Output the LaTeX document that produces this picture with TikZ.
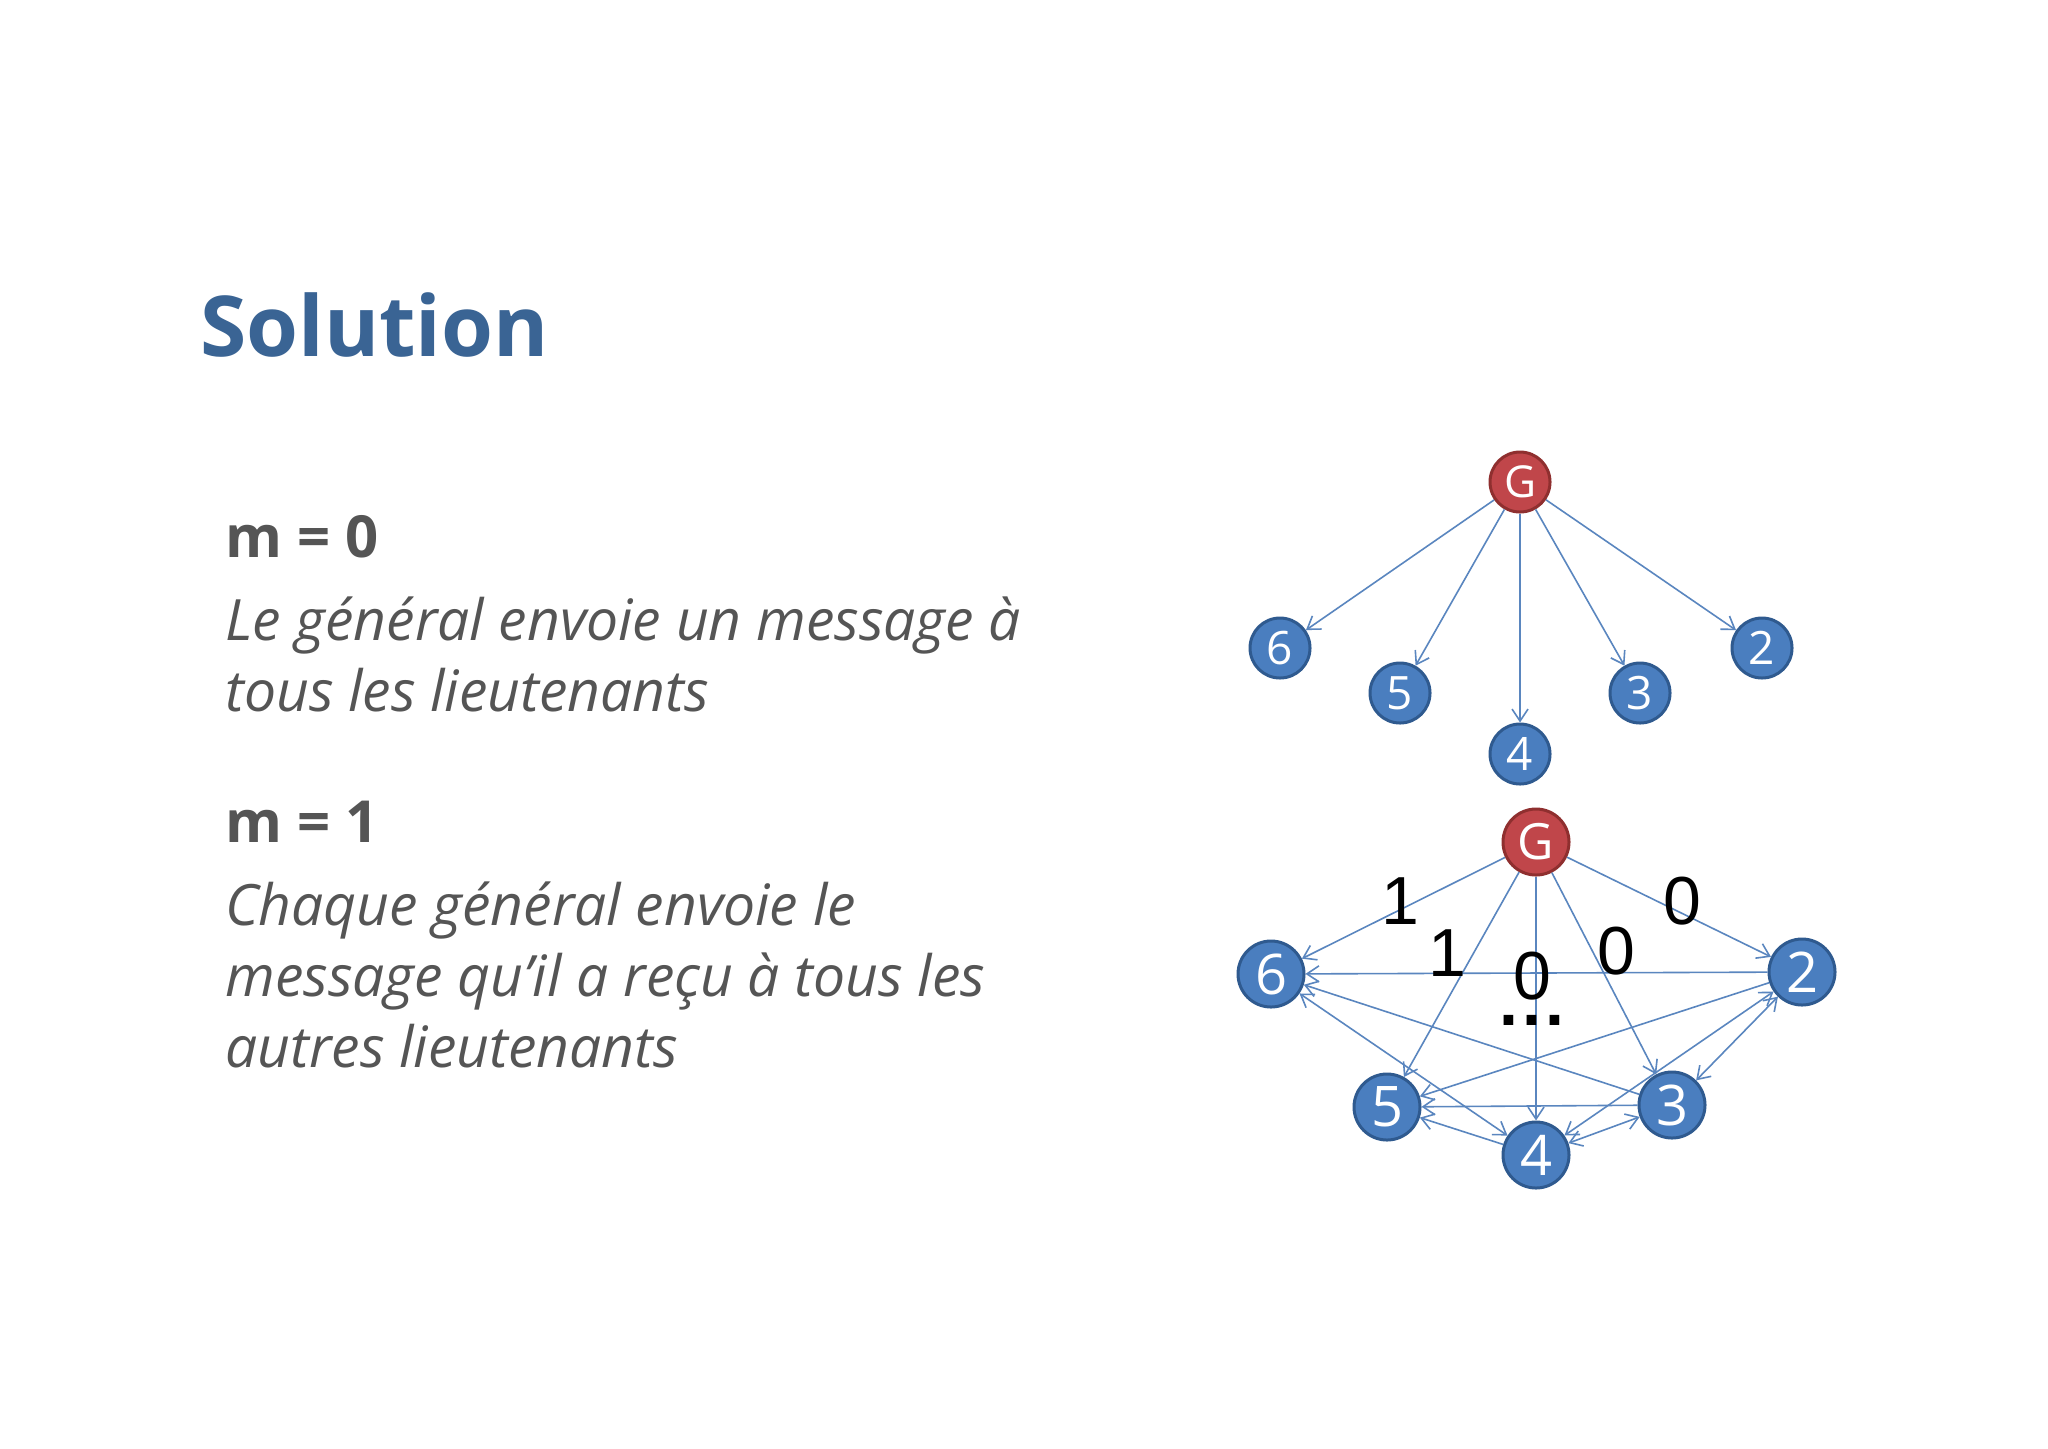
\documentclass[tikz,border=0pt]{standalone}
\usepackage{fontspec}
\setmainfont{Open Sans}
\usetikzlibrary{arrows.meta}
\definecolor{titleblue}{HTML}{3A6494}
\definecolor{txtgray}{HTML}{555555}
\definecolor{nodeblue}{HTML}{4A7EBF}
\definecolor{nodeborder}{HTML}{2F5A8F}
\definecolor{gred}{HTML}{C0464A}
\definecolor{gborder}{HTML}{8F2F2F}
\definecolor{edgeblue}{HTML}{5A86BF}
\tikzset{
  lt/.style={circle,fill=nodeblue,draw=nodeborder,line width=1.5pt,text=white,inner sep=0pt,font=\fontsize{#1}{#1}\selectfont},
  gen/.style={circle,fill=gred,draw=gborder,line width=1.5pt,text=white,inner sep=0pt,font=\fontsize{#1}{#1}\selectfont},
  ed/.style={draw=edgeblue,line width=0.8pt,-{Straight Barb[length=6pt,width=8pt]}},
  bd/.style={draw=edgeblue,line width=0.8pt,{Straight Barb[length=6pt,width=8pt]}-{Straight Barb[length=6pt,width=8pt]}},
  lab/.style={font=\fontspec{Liberation Sans}\fontsize{34}{34}\selectfont,text=black,inner sep=0pt},
  body/.style={anchor=base west,inner sep=0pt,text=txtgray}
}
\begin{document}
\begin{tikzpicture}[x=0.5pt,y=-0.5pt]
\useasboundingbox[fill=white] (0,0) rectangle (2048,1448);
\node[body,text=titleblue,font=\bfseries\fontsize{42}{42}\selectfont] (title) at (200,356) {Solution};
\node[body,font=\bfseries\fontsize{29}{29}\selectfont] (m0) at (225,557) {m = 0};
\node[body,font=\itshape\fontsize{28.5}{28.5}\selectfont] (t1) at (225,640) {Le général envoie un message à};
\node[body,font=\itshape\fontsize{28.5}{28.5}\selectfont] (t2) at (225,711) {tous les lieutenants};
\node[body,font=\bfseries\fontsize{29}{29}\selectfont] (m1) at (225,842) {m = 1};
\node[body,font=\itshape\fontsize{28.5}{28.5}\selectfont] (t3) at (225,925) {Chaque général envoie le};
\node[body,font=\itshape\fontsize{28.5}{28.5}\selectfont] (t4) at (225,996) {message qu\char"0027 il a reçu à tous les};
\node[body,font=\itshape\fontsize{28.5}{28.5}\selectfont] (t5) at (225,1067) {autres lieutenants};
% upper graph
\begin{scope}[every node/.append style={minimum size=30pt}]
\node[gen=22] (uG) at (1520,482) {G};
\node[lt=23] (u6) at (1280,648) {6};
\node[lt=23] (u5) at (1400,693) {5};
\node[lt=23] (u4) at (1520,754) {4};
\node[lt=23] (u3) at (1640,693) {3};
\node[lt=23] (u2) at (1762,648) {2};
\end{scope}
\foreach \t in {u6,u5,u4,u3,u2}{\draw[ed] (uG) -- (\t);}
% lower graph
\begin{scope}[every node/.append style={minimum size=33pt}]
\node[gen=25] (G) at (1536,842) {G};
\node[lt=28] (n6) at (1271,974) {6};
\node[lt=28] (n2) at (1802,972) {2};
\node[lt=28] (n5) at (1387,1107) {5};
\node[lt=28] (n3) at (1672,1105) {3};
\node[lt=28] (n4) at (1536,1155) {4};
\end{scope}
\foreach \t in {n6,n5,n4,n3,n2}{\draw[ed] (G) -- (\t);}
\draw[ed] (n2) -- (n6);
\draw[ed] (n3) -- (n6);
\draw[bd] (n6) -- (n4);
\draw[ed] (n2) -- (n5);
\draw[ed] (n3) -- (n5);
\draw[ed] (n4) -- (n5);
\draw[bd] (n4) -- (n2);
\draw[bd] (n2) -- (n3);
\draw[bd] (n3) -- (n4);
\node[lab] (l1) at (1400,901) {1};
\node[lab] (l2) at (1447,953) {1};
\node[lab] (l3) at (1532,976) {0};
\node[lab,font=\fontspec{Liberation Sans Bold}\fontsize{34}{34}\selectfont] (dots) at (1532,1020) {.\kern2pt.\kern2pt.};
\node[lab] (l4) at (1616,951) {0};
\node[lab] (l5) at (1682,901) {0};
\end{tikzpicture}
\end{document}
